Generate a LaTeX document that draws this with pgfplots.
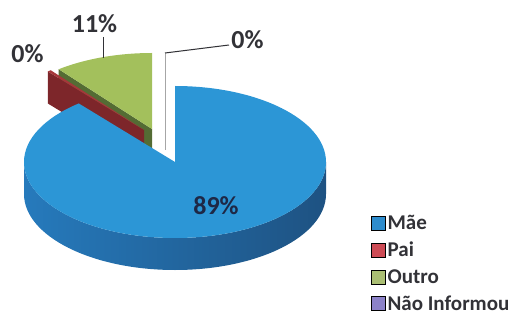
\documentclass[border=0pt]{standalone}
\usepackage{pgfplots}
\pgfplotsset{compat=1.18}
\usepackage{pgfplotstable}
\usepackage{fontspec}
\setmainfont{Carlito}
\definecolor{maetop}{RGB}{44,150,214}
\definecolor{maesideL}{RGB}{38,122,188}
\definecolor{maesideR}{RGB}{30,82,130}
\definecolor{outtop}{RGB}{163,192,92}
\definecolor{outwall}{RGB}{84,108,52}
\definecolor{paitop}{RGB}{165,55,58}
\definecolor{paiwall}{RGB}{125,38,42}
\definecolor{maeleg}{RGB}{45,140,205}
\definecolor{paileg}{RGB}{205,75,85}
\definecolor{outleg}{RGB}{170,190,115}
\definecolor{naoleg}{RGB}{140,130,200}
\definecolor{labtext}{RGB}{50,50,55}
\definecolor{inlab}{RGB}{30,40,70}
\pgfplotstableread{
label value
Mae 89.0
Pai 0.4
Outro 10.6
NaoInformou 0.0
}\piedata
\begin{document}
\begin{tikzpicture}
\pgfplotstablegetelem{0}{value}\of\piedata \let\vMae\pgfplotsretval
\pgfplotstablegetelem{1}{value}\of\piedata \let\vPai\pgfplotsretval
\pgfplotstablegetelem{2}{value}\of\piedata \let\vOut\pgfplotsretval
\pgfplotstablegetelem{3}{value}\of\piedata \let\vNao\pgfplotsretval
\pgfmathtruncatemacro{\lMae}{round(\vMae)}
\pgfmathtruncatemacro{\lPai}{round(\vPai)}
\pgfmathtruncatemacro{\lOut}{round(\vOut)}
\pgfmathtruncatemacro{\lNao}{round(\vNao)}
% angles, clockwise from 12 o'clock
\pgfmathsetmacro{\aA}{90-3.6*\vMae}        % end of Mae
\pgfmathsetmacro{\aB}{\aA-3.6*\vPai}       % end of Pai
\pgfmathsetmacro{\aC}{\aB-3.6*\vOut}       % end of Outro
\pgfmathsetmacro{\aAp}{\aA+360}
\pgfmathsetmacro{\aBp}{\aB+360}
\pgfmathsetmacro{\aCp}{\aC+360}
\def\rx{151}\def\ry{76}\def\dep{32}
% centres
\def\cxM{175}\def\cyM{154}
\def\cxO{152}\def\cyO{187}
\def\cxP{144}\def\cyP{186}
\pgfmathsetmacro{\gox}{\cxO+\rx*cos(\aBp)}
\pgfmathsetmacro{\goy}{\cyO+\ry*sin(\aBp)}
\pgfmathsetmacro{\goyd}{\goy-\dep}
\pgfmathsetmacro{\cyOd}{\cyO-\dep}
\pgfmathsetmacro{\gtop}{\cyO+\ry}
\pgfmathsetmacro{\pox}{\cxP+\rx*cos(\aAp)}
\pgfmathsetmacro{\poy}{\cyP+\ry*sin(\aAp)}
\pgfmathsetmacro{\poyd}{\poy-\dep}
\pgfmathsetmacro{\cyPd}{\cyP-\dep}
\pgfmathsetmacro{\pbx}{\cxP+\rx*cos(\aBp)}
\pgfmathsetmacro{\pby}{\cyP+\ry*sin(\aBp)}
\pgfmathsetmacro{\mlx}{\cxM-\rx}
\pgfmathsetmacro{\mrx}{\cxM+\rx}
\pgfmathsetmacro{\cyMd}{\cyM-\dep}
\pgfmathsetmacro{\mtop}{\cyM+\ry}
\begin{axis}[
  scale only axis, width=521pt, height=316pt,
  xmin=0, xmax=521, ymin=0, ymax=316,
  hide axis, clip=false,
  legend cell align=left,
  legend image code/.code={\fill[#1] (0pt,-7pt) rectangle (14pt,7pt);},
  legend style={at={(axis cs:371,103)}, anchor=north west, draw=none, fill=none,
    font=\bfseries\fontsize{21}{25}\selectfont, text=labtext, row sep=7pt,
    inner sep=0pt},
]
\path (axis cs:0,0) rectangle (axis cs:521,316);
\addlegendimage{fill=maeleg}\addlegendentry{Mãe}
\addlegendimage{fill=paileg}\addlegendentry{Pai}
\addlegendimage{fill=outleg}\addlegendentry{Outro}
\addlegendimage{fill=naoleg}\addlegendentry{Não Informou}
% Outro: wall and top
\fill[outwall] (\cxO,\cyO) -- (\gox,\goy) -- (\gox,\goyd) -- (\cxO,\cyOd) -- cycle;
\fill[outtop] (\cxO,\cyO) -- (\cxO,\gtop) arc[start angle=90, end angle=\aBp, x radius=\rx pt, y radius=\ry pt] -- cycle;
% Pai: wall and top
\fill[paiwall] (\cxP,\cyP) -- (\pox,\poy) -- (\pox,\poyd) -- (\cxP,\cyPd) -- cycle;
\fill[paitop] (\cxP,\cyP) -- (\pbx,\pby) arc[start angle=\aBp, end angle=\aAp, x radius=\rx pt, y radius=\ry pt] -- cycle;
% Mae: side and top
\shade[left color=maesideL, right color=maesideR] (\mlx,\cyM) arc[start angle=180, end angle=360, x radius=\rx pt, y radius=\ry pt] -- (\mrx,\cyMd) arc[start angle=360, end angle=180, x radius=\rx pt, y radius=\ry pt] -- cycle;
\fill[maetop] (\cxM,\cyM) -- (\cxM,\mtop) arc[start angle=90, end angle=\aA, x radius=\rx pt, y radius=\ry pt] -- cycle;
% Nao Informou (zero slice) edge and leader
\draw[gray!70, line width=0.6pt] (165,166) -- (165,263);
\draw[labtext, line width=1pt] (165,263) -- (229,271);
\draw[labtext, line width=1pt] (103,279) -- (103,258);
% labels
\node[font=\bfseries\fontsize{26}{30}\selectfont, text=inlab] at (216,110) {\lMae\%};
\node[font=\bfseries\fontsize{26}{30}\selectfont, text=labtext] at (94.5,292) {\lOut\%};
\node[font=\bfseries\fontsize{26}{30}\selectfont, text=labtext] at (27.5,262) {\lPai\%};
\node[font=\bfseries\fontsize{26}{30}\selectfont, text=labtext] at (247.5,276) {\lNao\%};
\end{axis}
\end{tikzpicture}
\end{document}
